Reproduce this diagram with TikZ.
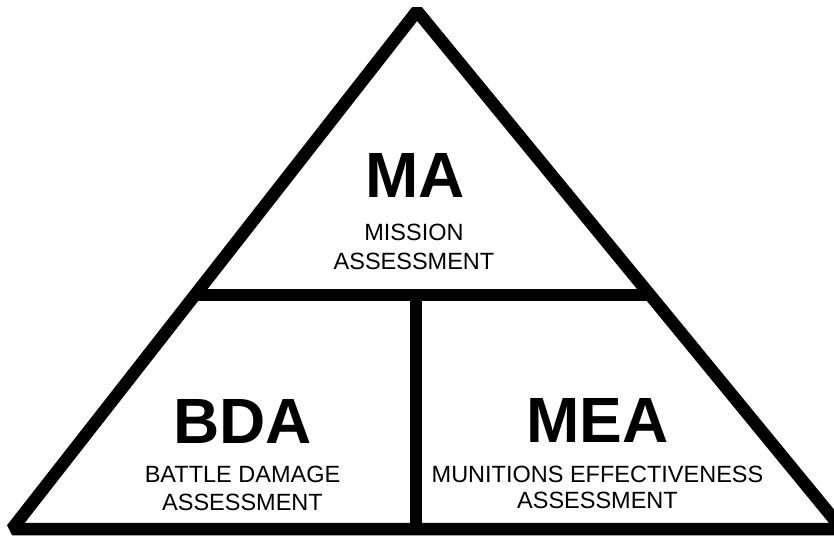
\documentclass[tikz,border=0pt]{standalone}
\usepackage{fontspec}
\setmainfont{Liberation Sans}
\tikzset{
  edge/.style={line width=12.5pt, line join=bevel},
  big/.style={anchor=base, inner sep=0pt, font=\fontsize{64}{64}\selectfont\bfseries},
  small/.style={anchor=base, inner sep=0pt, font=\fontsize{23.5}{29}\selectfont},
}
\begin{document}
\begin{tikzpicture}[x=1pt, y=-1pt]
\fill[white] (0,0) rectangle (834,535);
\clip (0,0) rectangle (834,535);
\coordinate (top) at (417,11);
\coordinate (botleft) at (12,529);
\coordinate (botright) at (842,529);
\coordinate (midleft) at (195,295);
\coordinate (midright) at (650,295);
\coordinate (midtop) at (416,295);
\coordinate (midbot) at (416,529);
\draw[edge] (top) -- (botleft) -- (botright) -- cycle;
\draw[edge] (midleft) -- (midright);
\draw[edge] (midtop) -- (midbot);
\node[big] (ma) at (415,197) {MA};
\node[small] (ma1) at (414,240) {MISSION};
\node[small] (ma2) at (414,269) {ASSESSMENT};
\node[big] (bda) at (242.5,443) {BDA};
\node[small] (bda1) at (242.5,482) {BATTLE DAMAGE};
\node[small] (bda2) at (242.5,510) {ASSESSMENT};
\node[big] (mea) at (597.5,442) {MEA};
\node[small] (mea1) at (597.5,482) {MUNITIONS EFFECTIVENESS};
\node[small] (mea2) at (597.5,508) {ASSESSMENT};
\end{tikzpicture}
\end{document}
